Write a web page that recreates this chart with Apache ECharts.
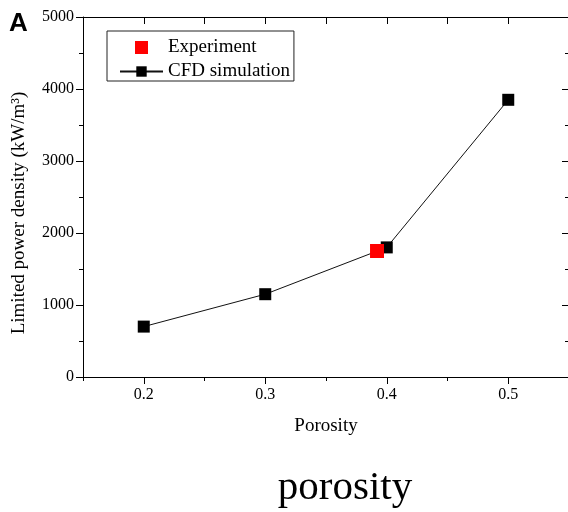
<!DOCTYPE html>
<html>
<head>
<meta charset="utf-8">
<script src="https://cdn.jsdelivr.net/npm/echarts@6/dist/echarts.min.js"></script>
<style>
  html, body { margin: 0; padding: 0; background: #fff; }
  #chart { width: 568px; height: 512px; }
</style>
</head>
<body>
<div id="chart"></div>
<script>
// Porosity vs limited power density
const porosityTicks = [0.2, 0.3, 0.4, 0.5];
const cfdPorosity = [0.2, 0.3, 0.4, 0.5];
const cfdPower = [700, 1150, 1800, 3850];
const expPorosity = [0.392];
const expPower = [1750];

const serif = 'Liberation Serif';
const ink = '#000';

const chart = echarts.init(document.getElementById('chart'));

const xRange = { min: 0.15, max: 0.55 };
const yRange = { min: 0, max: 5000, interval: 1000 };
const noSplit = { splitLine: { show: false } };

chart.setOption({
  animation: false,
  backgroundColor: '#fff',
  title: [
    {
      text: 'A', left: 9, top: 11, padding: 0,
      textStyle: { fontFamily: 'Liberation Sans', fontWeight: 'bold', fontSize: 26, color: ink }
    },
    {
      text: 'porosity', left: 345, top: 468, padding: 0, textAlign: 'center',
      textStyle: { fontFamily: serif, fontWeight: 'normal', fontSize: 41, color: ink }
    }
  ],
  legend: {
    orient: 'vertical',
    left: 107, top: 31,
    padding: [7, 4, 0, 12],
    itemGap: 5,
    itemWidth: 43, itemHeight: 13,
    borderColor: '#222', borderWidth: 1,
    textStyle: { fontFamily: serif, fontSize: 19, color: ink },
    data: [
      { name: 'Experiment', icon: 'path://M0,0h10v10h-10z' },
      { name: 'CFD simulation' }
    ]
  },
  grid: { left: 83, top: 17, width: 486, height: 360, outerBoundsMode: 'none' },
  xAxis: [
    Object.assign({
      type: 'value', position: 'bottom',
      name: 'Porosity', nameLocation: 'middle', nameGap: 40,
      nameTextStyle: { fontFamily: serif, fontSize: 19, color: ink },
      axisLine: { show: true, lineStyle: { color: ink, width: 1 } },
      axisTick: { show: true, length: 7, customValues: porosityTicks, lineStyle: { color: ink } },
      axisLabel: {
        customValues: porosityTicks, margin: 10,
        fontFamily: serif, fontSize: 16, color: ink,
        formatter: v => v.toFixed(1)
      }
    }, xRange, noSplit),
    Object.assign({
      type: 'value', position: 'bottom',
      interval: 0.05,
      axisLine: { show: false },
      axisTick: { show: true, length: 4, lineStyle: { color: ink } },
      axisLabel: { show: false }
    }, xRange, noSplit),
    Object.assign({
      type: 'value', position: 'top',
      interval: 0.05,
      axisLine: { show: true, lineStyle: { color: ink, width: 1 } },
      axisTick: { show: true, inside: true, length: 7, lineStyle: { color: ink } },
      axisLabel: { show: false }
    }, xRange, noSplit)
  ],
  yAxis: [
    Object.assign({
      type: 'value', position: 'left',
      name: 'Limited power density (kW/m³)', nameLocation: 'middle', nameGap: 54,
      nameTextStyle: { fontFamily: serif, fontSize: 19, color: ink, padding: [0, 32, 0, 0] },
      axisLine: { show: true, lineStyle: { color: ink, width: 1 } },
      axisTick: { show: true, length: 7, lineStyle: { color: ink } },
      minorTick: { show: true, splitNumber: 2, length: 4, lineStyle: { color: ink } },
      axisLabel: { margin: 9, fontFamily: serif, fontSize: 16, color: ink, formatter: v => String(v) }
    }, yRange, noSplit),
    Object.assign({
      type: 'value', position: 'right',
      axisLine: { show: true, lineStyle: { color: ink, width: 1 } },
      axisTick: { show: true, inside: true, length: 7, lineStyle: { color: ink } },
      minorTick: { show: true, splitNumber: 2, length: 4, lineStyle: { color: ink } },
      axisLabel: { show: false }
    }, yRange, noSplit)
  ],
  series: [
    {
      name: 'CFD simulation',
      type: 'line',
      xAxisIndex: 0, yAxisIndex: 0,
      data: cfdPorosity.map((p, i) => [p, cfdPower[i]]),
      symbol: 'rect', symbolSize: 12,
      itemStyle: { color: ink },
      lineStyle: { color: '#111', width: 1 },
      z: 2
    },
    {
      name: 'Experiment',
      type: 'scatter',
      xAxisIndex: 0, yAxisIndex: 0,
      data: expPorosity.map((p, i) => [p, expPower[i]]),
      symbol: 'rect', symbolSize: 14,
      itemStyle: { color: '#ff0000', opacity: 1 },
      z: 4
    }
  ]
});
</script>
</body>
</html>
